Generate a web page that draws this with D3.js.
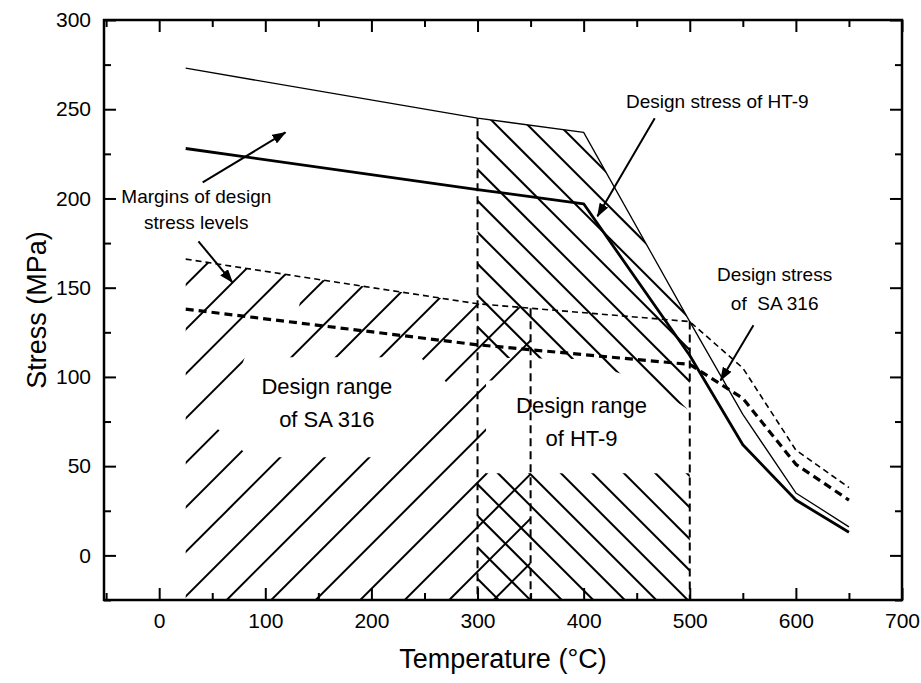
<!DOCTYPE html>
<html>
<head>
<meta charset="utf-8">
<script src="https://cdn.jsdelivr.net/npm/d3@7"></script>
<style>
  body { margin: 0; background: #fff; }
  svg text { font-family: "Liberation Sans", Arial, Helvetica, sans-serif; fill: #000; }
</style>
</head>
<body>
<div id="chart"></div>
<script>
// ---- data ----
// temperatures (°C) where each curve was sampled
var tempsHT9 = [25, 300, 400, 500, 550, 600, 650];
var marginHT9 = [273, 245, 237, 131, 79, 35, 16];     // upper margin, thin solid
var designHT9 = [228, 205, 197, 112, 62, 31, 13];     // design stress, thick solid
var tempsSA316 = [25, 300, 500, 550, 600, 650];
var marginSA316 = [166, 141, 131, 105, 59, 38];       // upper margin, thin dashed
var designSA316 = [138, 118, 107, 88, 51, 31];        // design stress, thick dashed

var rangeSA316 = [25, 350];    // design temperature range of SA 316
var rangeHT9 = [300, 500];     // design temperature range of HT-9
var limitTemps = [300, 350, 500];

var xTicks = [0, 100, 200, 300, 400, 500, 600, 700];
var yTicks = [0, 50, 100, 150, 200, 250, 300];
var xMinor = [-50, 50, 150, 250, 350, 450, 550, 650];
var yMinor = [-25, 25, 75, 125, 175, 225, 275];

var labelMargins = ["Margins of design", "stress levels"];
var labelStressHT9 = ["Design stress of HT-9"];
var labelStressSA = ["Design stress", "of  SA 316"];
var labelRangeSA = ["Design range", "of SA 316"];
var labelRangeHT = ["Design range", "of HT-9"];

// ---- setup ----
var W = 921, H = 683;
var x = d3.scaleLinear().domain([-52, 700]).range([104, 902]);
var y = d3.scaleLinear().domain([-25, 300]).range([600, 20]);

var svg = d3.select("#chart").append("svg")
    .attr("width", W).attr("height", H);
var defs = svg.append("defs");

function curveAt(ts, vs, t) {
  for (var i = 0; i < ts.length - 1; i++) {
    if (t >= ts[i] && t <= ts[i + 1]) {
      return vs[i] + (vs[i + 1] - vs[i]) * (t - ts[i]) / (ts[i + 1] - ts[i]);
    }
  }
  return vs[vs.length - 1];
}

function regionPoly(range, ts, vs) {
  var pts = [[range[0], -25], [range[0], curveAt(ts, vs, range[0])]];
  ts.forEach(function(t, i) { if (t > range[0] && t < range[1]) pts.push([t, vs[i]]); });
  pts.push([range[1], curveAt(ts, vs, range[1])]);
  pts.push([range[1], -25]);
  return pts.map(function(p) { return [x(p[0]), y(p[1])]; });
}

var line = d3.line().x(function(d) { return x(d[0]); }).y(function(d) { return y(d[1]); });
var poly = d3.line();

// clip regions for hatching
defs.append("clipPath").attr("id", "clipSA")
  .append("path").attr("d", poly(regionPoly(rangeSA316, tempsSA316, marginSA316)) + "Z");
defs.append("clipPath").attr("id", "clipHT")
  .append("path").attr("d", poly(regionPoly(rangeHT9, tempsHT9, marginHT9)) + "Z");

// blank areas kept around the range labels
function addMask(id, shapes) {
  var m = defs.append("mask").attr("id", id)
      .attr("maskUnits", "userSpaceOnUse")
      .attr("x", 0).attr("y", 0).attr("width", W).attr("height", H);
  m.append("rect").attr("width", W).attr("height", H).attr("fill", "#fff");
  shapes.forEach(function(s) {
    m.append("path").attr("d", line(s) + "Z").attr("fill", "#000");
  });
}
addMask("maskSA", [
  [[55, 71], [84, 116], [135, 148], [121, 111], [246, 111], [274, 95], [203, 55], [114, 55], [80, 58]],
  [[308, 98], [360, 98], [360, 46], [308, 46]]
]);
addMask("maskHT", [
  [[293, 111], [392, 110], [434, 102], [472, 92], [503, 80], [503, 46], [293, 46]]
]);

// ---- hatching ----
var hatchSA = svg.append("g").attr("clip-path", "url(#clipSA)")
  .append("g").attr("mask", "url(#maskSA)");
var c0 = x(25) + y(-25) - 3.5;
var cs = d3.range(-20, 20).map(function(i) { return c0 + i * 44.5; });
hatchSA.selectAll("line").data(cs).enter().append("line")
  .attr("x1", function(c) { return c - H; }).attr("y1", H)
  .attr("x2", function(c) { return c; }).attr("y2", 0)
  .attr("stroke", "#000").attr("stroke-width", 2);

var hatchHT = svg.append("g").attr("clip-path", "url(#clipHT)")
  .append("g").attr("mask", "url(#maskHT)");
var k0 = y(234) - x(300);
var ks = d3.range(-20, 20).map(function(i) { return k0 + i * 31.5; });
hatchHT.selectAll("line").data(ks).enter().append("line")
  .attr("x1", 0).attr("y1", function(k) { return k; })
  .attr("x2", W).attr("y2", function(k) { return W + k; })
  .attr("stroke", "#000").attr("stroke-width", 2);

// ---- dashed limits of the design ranges ----
var limitTop = {
  300: curveAt(tempsHT9, marginHT9, 300),
  350: curveAt(tempsSA316, marginSA316, 350),
  500: curveAt(tempsSA316, marginSA316, 500)
};
svg.selectAll(".limit").data(limitTemps).enter().append("line")
  .attr("class", "limit")
  .attr("x1", function(t) { return x(t); }).attr("x2", function(t) { return x(t); })
  .attr("y1", function(t) { return y(limitTop[t]); }).attr("y2", y(-25))
  .attr("stroke", "#000").attr("stroke-width", 2).attr("stroke-dasharray", "8,5");

// ---- curves ----
function zip(ts, vs) { return ts.map(function(t, i) { return [t, vs[i]]; }); }
var curves = [
  {d: zip(tempsHT9, marginHT9), w: 1.3, dash: null},
  {d: zip(tempsHT9, designHT9), w: 2.8, dash: null},
  {d: zip(tempsSA316, marginSA316), w: 1.6, dash: "6,4"},
  {d: zip(tempsSA316, designSA316), w: 3.2, dash: "8,5"}
];
svg.selectAll(".curve").data(curves).enter().append("path")
  .attr("class", "curve")
  .attr("d", function(c) { return line(c.d); })
  .attr("fill", "none").attr("stroke", "#000")
  .attr("stroke-width", function(c) { return c.w; })
  .attr("stroke-dasharray", function(c) { return c.dash; })
  .attr("stroke-linejoin", "round");

// ---- axes ----
function styleAxis(g) {
  g.select(".domain").remove();
  g.selectAll("line").attr("stroke-width", 2);
  g.attr("font-size", 21).attr("font-family", "\"Liberation Sans\", Arial, sans-serif");
}
svg.append("g").attr("transform", "translate(0," + y(-25) + ")")
  .call(d3.axisBottom(x).tickValues(xTicks).tickSize(-12).tickPadding(13).tickFormat(d3.format("d")))
  .call(styleAxis);
svg.append("g").attr("transform", "translate(0," + y(-25) + ")")
  .call(d3.axisBottom(x).tickValues(xMinor).tickSize(-7).tickFormat(""))
  .call(styleAxis);
svg.append("g").attr("transform", "translate(0," + y(300) + ")")
  .call(d3.axisTop(x).tickValues(xTicks).tickSize(-12).tickFormat(""))
  .call(styleAxis);
svg.append("g").attr("transform", "translate(0," + y(300) + ")")
  .call(d3.axisTop(x).tickValues(xMinor).tickSize(-7).tickFormat(""))
  .call(styleAxis);
svg.append("g").attr("transform", "translate(" + x(-52) + ",0)")
  .call(d3.axisLeft(y).tickValues(yTicks).tickSize(-12).tickPadding(13).tickFormat(d3.format("d")))
  .call(styleAxis);
svg.append("g").attr("transform", "translate(" + x(-52) + ",0)")
  .call(d3.axisLeft(y).tickValues(yMinor).tickSize(-7).tickFormat(""))
  .call(styleAxis);
svg.append("g").attr("transform", "translate(" + x(700) + ",0)")
  .call(d3.axisRight(y).tickValues(yTicks).tickSize(-12).tickFormat(""))
  .call(styleAxis);
svg.append("g").attr("transform", "translate(" + x(700) + ",0)")
  .call(d3.axisRight(y).tickValues(yMinor).tickSize(-7).tickFormat(""))
  .call(styleAxis);

svg.append("rect")
  .attr("x", x(-52)).attr("y", y(300))
  .attr("width", x(700) - x(-52)).attr("height", y(-25) - y(300))
  .attr("fill", "none").attr("stroke", "#000").attr("stroke-width", 2.5);

svg.append("text")
  .attr("x", (x(-52) + x(700)) / 2).attr("y", 668)
  .attr("text-anchor", "middle").attr("font-size", 27)
  .text("Temperature (°C)");
svg.append("text")
  .attr("transform", "translate(46," + ((y(300) + y(-25)) / 2) + ") rotate(-90)")
  .attr("text-anchor", "middle").attr("font-size", 27)
  .text("Stress (MPa)");

// ---- labels ----
function addLabel(lines, t, v, size, gap) {
  var txt = svg.append("text")
    .attr("x", x(t)).attr("y", y(v))
    .attr("text-anchor", "middle").attr("font-size", size)
    .style("white-space", "pre");
  lines.forEach(function(s, i) {
    txt.append("tspan").attr("x", x(t)).attr("dy", i === 0 ? 0 : gap).text(s);
  });
}
addLabel(labelMargins, 35, 197.5, 19, 26);
addLabel(labelStressHT9, 526, 250.7, 19, 0);
addLabel(labelStressSA, 580, 153.7, 19, 29);
addLabel(labelRangeSA, 158, 90.4, 22, 33);
addLabel(labelRangeHT, 398, 79.8, 22, 33);

// ---- arrows ----
defs.append("marker").attr("id", "head")
  .attr("viewBox", "0 0 14 10").attr("refX", 13).attr("refY", 5)
  .attr("markerWidth", 14).attr("markerHeight", 10)
  .attr("markerUnits", "userSpaceOnUse").attr("orient", "auto")
  .append("path").attr("d", "M0,0 L14,5 L0,10 Z").attr("fill", "#000");

var arrows = [
  [[41, 209], [119, 237]],
  [[37, 176], [69, 153]],
  [[467, 245], [413, 190]],
  [[560, 129], [529, 98]]
];
svg.selectAll(".arrow").data(arrows).enter().append("path")
  .attr("class", "arrow")
  .attr("d", function(a) { return line(a); })
  .attr("stroke", "#000").attr("stroke-width", 2).attr("fill", "none")
  .attr("marker-end", "url(#head)");
</script>
</body>
</html>
